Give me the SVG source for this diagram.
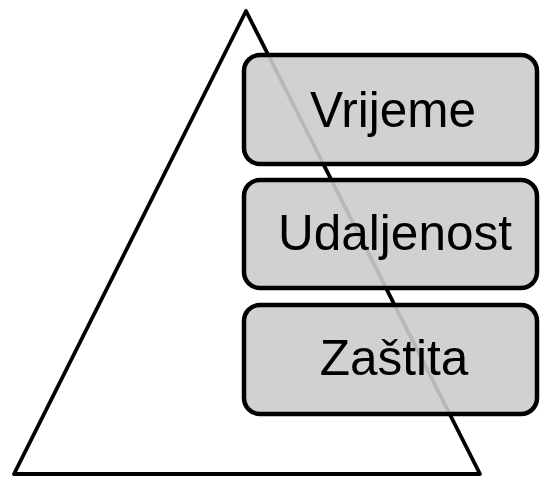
<svg xmlns="http://www.w3.org/2000/svg" width="540" height="479" viewBox="0 0 540 479">
<style>
.box{fill:#cccccc;fill-opacity:0.9;stroke:#000;stroke-width:4.5}
.lbl{font-family:"Liberation Sans",Arial,sans-serif;font-size:49.5px;fill:#000;text-anchor:middle}
</style>
<rect width="540" height="479" fill="#fff"/>
<g id="triangle">
<polygon points="246,11 14,474 480,474" fill="none" stroke="#000" stroke-width="3.8" stroke-linejoin="round"/>
</g>
<g id="connectors"/>
<g id="vrijeme">
<rect class="box" x="244" y="55" width="293" height="109" rx="16"/>
<text class="lbl" x="393" y="126.5">Vrijeme</text>
</g>
<g id="udaljenost">
<rect class="box" x="244" y="180" width="293" height="108" rx="16"/>
<text class="lbl" x="395" y="250">Udaljenost</text>
</g>
<g id="zastita">
<rect class="box" x="244" y="305" width="293" height="109" rx="16"/>
<text class="lbl" x="394" y="375">Zaštita</text>
</g>
</svg>
